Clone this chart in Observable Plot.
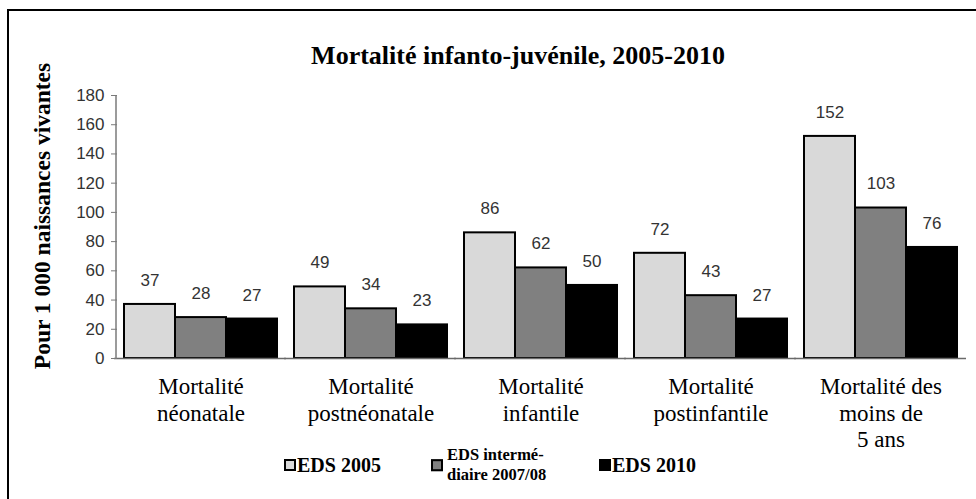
<!DOCTYPE html>
<html>
<head>
<meta charset="utf-8">
<script src="https://cdn.jsdelivr.net/npm/d3@7"></script>
<script src="https://cdn.jsdelivr.net/npm/@observablehq/plot@0.6"></script>
<style>
  html, body { margin: 0; padding: 0; background: #fff; }
  #wrap { position: relative; width: 976px; height: 499px; overflow: hidden; background: #fff; }
  #frame { position: absolute; left: 7px; top: 9px; width: 980px; height: 500px; border-top: 2px solid #000; border-left: 2px solid #000; }
  #chart { position: absolute; left: 0; top: 0; }
  .serifb { font-family: "Liberation Serif", "Times New Roman", serif; font-weight: bold; color: #000; }
  #title { position: absolute; top: 41px; left: 0; width: 1036px; text-align: center; font-size: 26px; white-space: nowrap; }
  #ytitle { position: absolute; left: 42px; top: 216px; transform: translate(-50%, -50%) rotate(-90deg); font-size: 23.5px; white-space: nowrap; }
  .leg { position: absolute; display: flex; align-items: center; }
  .sw { width: 8px; height: 8px; border: 2px solid #000; margin-right: 1px; }
  .cat-label text { font-family: "Liberation Serif", "Times New Roman", serif; }
  .num-label text, .y-ticks text { font-family: "Liberation Sans", Arial, sans-serif; }
</style>
</head>
<body>
<div id="wrap">
  <div id="frame"></div>
  <div id="chart"></div>
  <div id="title" class="serifb">Mortalité infanto-juvénile, 2005-2010</div>
  <div id="ytitle" class="serifb">Pour 1 000 naissances vivantes</div>
  <div id="legend"></div>
</div>
<script>
// ---- data ----
const categories = ["Mortalité néonatale", "Mortalité postnéonatale", "Mortalité infantile", "Mortalité postinfantile", "Mortalité des moins de 5 ans"];
const categoryLabels = ["Mortalité\nnéonatale", "Mortalité\npostnéonatale", "Mortalité\ninfantile", "Mortalité\npostinfantile", "Mortalité des\nmoins de\n5 ans"];
const series = ["EDS 2005", "EDS intermédiaire 2007/08", "EDS 2010"];
const seriesLegendLabels = ["EDS 2005", "EDS intermé-<br>diaire 2007/08", "EDS 2010"];
const seriesColors = ["#d9d9d9", "#808080", "#000000"];
const values2005 = [37, 49, 86, 72, 152];
const valuesInter = [28, 34, 62, 43, 103];
const values2010 = [27, 23, 50, 27, 76];
const yTicks = [0, 20, 40, 60, 80, 100, 120, 140, 160, 180];

const seriesValues = [values2005, valuesInter, values2010];
const rows = [];
categories.forEach((c, i) => {
  series.forEach((s, j) => rows.push({cat: c, series: s, value: seriesValues[j][i]}));
});
const labelRows = categories.map((c, i) => ({cat: c, label: categoryLabels[i]}));

const M = {left: 116, right: 12, top: 95, bottom: 141};
const SERIF = "'Liberation Serif', 'Times New Roman', serif";
const SANS = "'Liberation Sans', Arial, sans-serif";

const plot = Plot.plot({
  width: 976,
  height: 499,
  marginLeft: M.left,
  marginRight: M.right,
  marginTop: M.top,
  marginBottom: M.bottom,
  style: {background: "transparent", overflow: "visible"},
  fx: {domain: categories, paddingInner: 0.101, paddingOuter: 0.041, axis: null, label: null},
  x: {domain: series, padding: 0, axis: null},
  y: {domain: [0, 180], axis: null},
  color: {domain: series, range: seriesColors, legend: false},
  marks: [
    Plot.barY(rows, {fx: "cat", x: "series", y: "value", fill: "series", stroke: "#000", strokeWidth: 2}),
    Plot.ruleY([0], {stroke: "#6a6a6a", strokeWidth: 1.5, insetLeft: -10, insetRight: -9}),
    Plot.axisY({ticks: yTicks, tickSize: 6, tickPadding: 7, dx: -7, stroke: "#7a7a7a",
      fontSize: 17, fontFamily: SANS, fill: "#333", label: null, className: "y-ticks"}),
    Plot.text(rows, {fx: "cat", x: "series", y: "value", text: d => String(d.value), dy: -24,
      fontSize: 17, fontFamily: SANS, fill: "#333", className: "num-label"}),
    Plot.text(labelRows, {fx: "cat", text: "label", frameAnchor: "bottom", lineAnchor: "top", dy: 16,
      lineHeight: 1.17, fontSize: 23, fontFamily: SERIF, fill: "#000", className: "cat-label"})
  ]
});
document.getElementById("chart").appendChild(plot);

// y-axis line, using the plot's own y scale
const ys = plot.scale("y");
d3.select(plot).append("line")
  .attr("x1", M.left).attr("x2", M.left)
  .attr("y1", ys.apply(180)).attr("y2", ys.apply(0))
  .attr("stroke", "#7a7a7a").attr("stroke-width", 1.5);

// legend
const legendPos = [{left: 284, size: 20}, {left: 431, size: 16.5}, {left: 599, size: 20}];
const legend = document.getElementById("legend");
series.forEach((s, i) => {
  const item = document.createElement("div");
  item.className = "leg serifb";
  item.style.left = legendPos[i].left + "px";
  item.style.top = "465px";
  item.style.transform = "translateY(-50%)";
  item.style.fontSize = legendPos[i].size + "px";
  item.style.lineHeight = "1.2";
  const sw = document.createElement("div");
  sw.className = "sw";
  sw.style.background = seriesColors[i];
  if (i === 1) sw.style.marginRight = "4px";
  const tx = document.createElement("div");
  tx.innerHTML = seriesLegendLabels[i];
  item.appendChild(sw);
  item.appendChild(tx);
  legend.appendChild(item);
});
</script>
</body>
</html>
